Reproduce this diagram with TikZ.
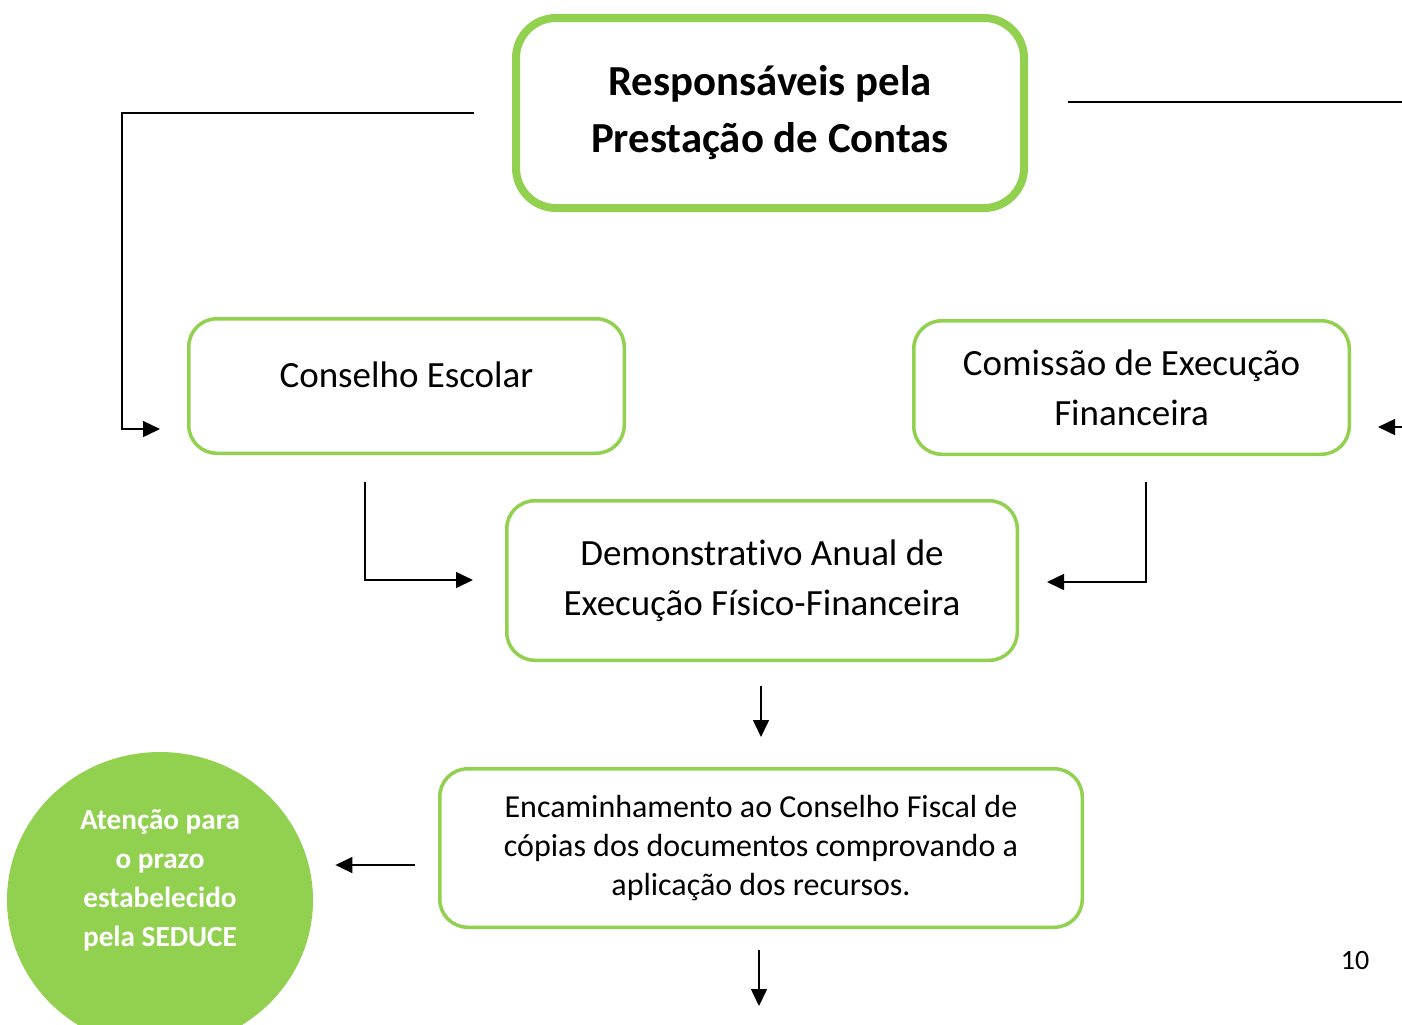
\documentclass[tikz,border=0pt]{standalone}
\usepackage{fontspec}
\setmainfont{Carlito}[Ligatures=NoCommon]
\usepackage{tikz}
\usepackage{xcolor}
\usetikzlibrary{arrows.meta}
\usetikzlibrary{shapes.geometric}

\definecolor{verde}{HTML}{92D050}

\begin{document}
\begin{tikzpicture}[x=0.5pt,y=-0.5pt,
		caixa/.style={draw=verde, line width=1.75pt, rounded corners=14pt, align=center, inner sep=0pt},
		seta/.style={-{Triangle[length=8.5pt,width=8pt]}, line width=0.75pt},
		texto/.style={font=\fontsize{18.5pt}{25pt}\selectfont}]
			\clip (0,0) rectangle (1402,1024);
			\node[caixa, line width=4pt, rounded corners=20pt, minimum width=254pt, minimum height=95pt, font=\fontsize{21.4pt}{28.5pt}\selectfont\bfseries] (R) at (770,113){Responsáveis pela\\Prestação de Contas};
			\node[caixa, texto, minimum width=217.75pt, minimum height=67.25pt, text depth=11pt] (CE) at (406.5,386){Conselho Escolar};
			\node[caixa, texto, minimum width=217.75pt, minimum height=66.75pt] (CF) at (1131.5,387.5){Comissão de Execução\\Financeira};
			\node[caixa, texto, minimum width=255.25pt, minimum height=79.75pt] (DA) at (762,580.5){Demonstrativo Anual de\\Execução Físico-Financeira};
			\node[caixa, minimum width=321.25pt, minimum height=79.25pt, font=\fontsize{16pt}{19.5pt}\selectfont] (EN) at (761,848){Encaminhamento ao Conselho Fiscal de\\cópias dos documentos comprovando a\\aplicação dos recursos.};
			\node[ellipse, fill=verde, minimum width=153pt, minimum height=148pt, inner sep=0pt, align=center, text=white, text depth=22pt, font=\fontsize{14.6pt}{19.5pt}\selectfont\bfseries] (AT) at (160,900){Atenção para\\o prazo\\estabelecido\\pela SEDUCE};
			\node[font=\fontsize{14pt}{17pt}\selectfont] (pg) at (1355,960){10};
			\coordinate (ce-in) at (160,429);
			\coordinate (cf-in) at (1378,427);
			\coordinate (ce-out) at (365,482);
			\coordinate (cf-out) at (1146,482);
			\coordinate (da-l) at (473,580);
			\coordinate (da-r) at (1047,582);
			\coordinate (prox) at (759,1006);
			\draw[seta] ([xshift=-19pt]R.west) -- ++(-352,0) |- (ce-in);
			\draw[seta] ([shift={(20pt,5.5pt)}]R.east) -- ++(380,0) |- (cf-in);
			\draw[seta] (ce-out) |- (da-l);
			\draw[seta] (cf-out) |- (da-r);
			\draw[seta, shorten <=12pt, shorten >=15pt] (EN.north |- DA.south) -- (EN.north);
			\draw[seta, shorten <=11.4pt, shorten >=11pt] ([yshift=-8.5pt]EN.west) -- ([yshift=-8.5pt]EN.west -| AT.east);
			\draw[seta, shorten <=10.5pt] (EN.south -| prox) -- (prox);
		\end{tikzpicture}
\end{document}
